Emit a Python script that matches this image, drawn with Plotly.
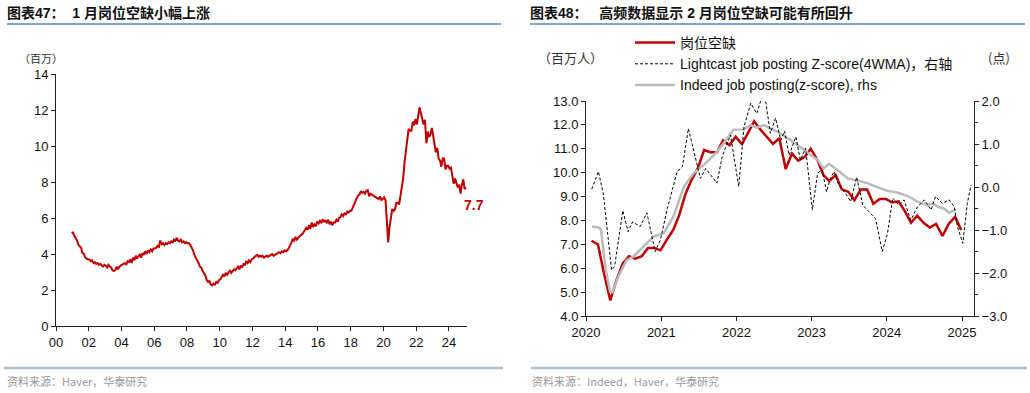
import pandas as pd
import plotly.graph_objects as go

# ---------------- data ----------------
# Left chart: US job openings (millions), monthly Dec-2000 .. Jan-2025
openings_2000s = [
    5.15,
    5.2, 5.0, 4.9, 4.75, 4.5, 4.4, 4.35, 4.05, 4.0, 3.8, 3.75, 3.7,
    3.7, 3.6, 3.65, 3.5, 3.55, 3.45, 3.5, 3.4, 3.45, 3.35, 3.3, 3.4,
    3.35, 3.25, 3.4, 3.3, 3.25, 3.1, 3.05, 3.1, 3.3, 3.15, 3.3, 3.35,
    3.4, 3.45, 3.5, 3.4, 3.6, 3.55, 3.7, 3.5, 3.8, 3.65, 3.9, 3.75,
    3.85, 4.0, 3.8, 4.05, 3.95, 4.15, 4.0, 4.2, 4.1, 4.25, 4.15, 4.3,
    4.3, 4.35, 4.45, 4.4, 4.75, 4.55, 4.6, 4.5, 4.6, 4.55, 4.65, 4.6,
    4.7, 4.65, 4.8, 4.7, 4.9, 4.75, 4.7, 4.8, 4.65, 4.7, 4.6, 4.65,
    4.6, 4.6, 4.5, 4.35, 4.2, 3.95, 3.8, 3.7, 3.5, 3.3, 3.25, 3.05,
    2.9, 2.8, 2.55, 2.45, 2.5, 2.3, 2.25, 2.35, 2.3, 2.45, 2.4, 2.55,
]
openings_2010s = [
    2.6, 2.7, 2.85, 2.75, 2.95, 2.85, 3.0, 3.1, 2.95, 3.05, 3.15, 3.1,
    3.2, 3.3, 3.15, 3.35, 3.25, 3.45, 3.4, 3.6, 3.5, 3.65, 3.55, 3.7,
    3.75, 3.85, 3.9, 3.95, 3.85, 3.9, 3.85, 3.9, 3.8, 3.85, 3.9, 3.85,
    3.9, 3.95, 4.0, 3.9, 3.95, 4.0, 4.05, 4.1, 4.05, 4.15, 4.1, 4.2,
    4.15, 4.2, 4.3, 4.45, 4.6, 4.85, 4.7, 4.95, 4.8, 4.9, 5.0, 5.05,
    5.1, 5.2, 5.3, 5.45, 5.35, 5.6, 5.4, 5.75, 5.5, 5.65, 5.55, 5.8,
    5.7, 5.85, 5.75, 5.9, 5.8, 5.85, 5.75, 5.9, 5.65, 5.8, 5.6, 5.75,
    5.75, 5.9, 5.8, 6.0, 6.05, 6.2, 6.1, 6.25, 6.2, 6.35, 6.3, 6.4,
    6.4, 6.6, 6.75, 6.9, 7.1, 7.25, 7.3, 7.5, 7.4, 7.45, 7.35, 7.5,
    7.55, 7.2, 7.35, 7.3, 7.25, 7.2, 7.15, 7.1, 7.05, 7.2, 7.0, 7.05,
]
openings_2020s = [
    7.15, 7.0, 5.8, 4.65, 5.5, 6.2, 6.5, 6.4, 6.5, 6.85, 6.85, 6.75,
    7.2, 7.6, 8.2, 9.1, 9.7, 10.2, 10.95, 10.85, 10.85, 11.35, 11.15, 11.5,
    11.2, 11.7, 12.15, 11.8, 11.5, 11.2, 11.45, 10.15, 10.8, 10.5, 10.65, 11.0,
    10.55, 9.9, 9.65, 9.9, 9.3, 9.2, 8.85, 9.3, 9.3, 8.7, 8.9, 8.9,
    8.75, 8.8, 8.4, 7.9, 8.2, 7.9, 7.7, 7.85, 7.35, 7.85, 8.15, 7.6,
    7.7,
]
left_start = "2000-12-01"
left_ticks = list(range(2000, 2025, 2))
last_label = "7.7"

# Right chart
red_start = "2020-01-01"
red_values = openings_2020s[:60]          # Jan-2020 .. Dec-2024

lightcast_t = [2020.076, 2020.165, 2020.23, 2020.34, 2020.38, 2020.49, 2020.56, 2020.62,
               2020.72, 2020.81, 2020.92, 2020.99, 2021.08, 2021.21, 2021.28, 2021.36,
               2021.52, 2021.59, 2021.74, 2021.81, 2021.92, 2022.03, 2022.1, 2022.19,
               2022.27, 2022.33, 2022.39, 2022.45, 2022.52, 2022.59, 2022.64, 2022.7,
               2022.79, 2022.85, 2022.92, 2023.01, 2023.08, 2023.14, 2023.2, 2023.25,
               2023.3, 2023.36, 2023.45, 2023.52, 2023.6, 2023.68, 2023.76, 2023.85,
               2023.94, 2024.01, 2024.08, 2024.16, 2024.23, 2024.32, 2024.41, 2024.5,
               2024.59, 2024.65, 2024.74, 2024.83, 2024.9, 2024.94, 2025.01, 2025.07, 2025.12]
lightcast_v = [-0.05, 0.36, -0.15, -1.93, -1.85, -0.55, -1.04, -0.81,
               -0.92, -0.6, -1.5, -1.23, -0.5, 0.36, 0.47, 1.36,
               0.2, 0.43, 0.09, 0.71, 1.21, 0.01, 1.4, 1.95,
               1.71, 2.05, 1.98, 1.25, 1.6, 1.09, 1.3, 0.74,
               1.17, 0.63, 0.9, -0.53, 0.32, 0.4, -0.11, 0.2,
               0.36, 0.05, -0.15, -0.34, 0.23, -0.42, -0.57, -0.73,
               -1.5, -1.08, -0.26, -0.42, -0.3, -0.77, -0.46, -0.3,
               -0.53, -0.22, -0.38, -0.3, -0.46, -0.92, -1.31, -0.38, 0.05]

indeed_t = [2020.08, 2020.17, 2020.2, 2020.26, 2020.32, 2020.35, 2020.43, 2020.54,
            2020.63, 2020.76, 2020.9, 2021.03, 2021.16, 2021.3, 2021.43, 2021.56,
            2021.7, 2021.83, 2021.96, 2022.1, 2022.19, 2022.27, 2022.37, 2022.45,
            2022.54, 2022.72, 2022.9, 2023.08, 2023.16, 2023.23, 2023.34, 2023.48,
            2023.61, 2023.74, 2023.88, 2024.01, 2024.14, 2024.28, 2024.41, 2024.54,
            2024.61, 2024.68, 2024.76, 2024.83, 2024.92]
indeed_v = [-0.92, -0.94, -1.0, -1.9, -2.43, -2.45, -2.08, -1.7,
            -1.62, -1.39, -1.15, -1.08, -0.69, 0.01, 0.32, 0.51,
            0.74, 1.02, 1.33, 1.34, 1.44, 1.38, 1.44, 1.36,
            1.29, 1.09, 0.86, 0.63, 0.43, 0.54, 0.4, 0.2,
            0.15, 0.09, -0.01, -0.09, -0.13, -0.21, -0.34, -0.42,
            -0.38, -0.46, -0.5, -0.6, -0.52]
right_ticks = list(range(2020, 2026))

names = ["岗位空缺", "Lightcast job posting Z-score(4WMA)，右轴", "Indeed job posting(z-score), rhs"]


def dec_to_date(t):
    y = int(t)
    return pd.Timestamp(year=y, month=1, day=1) + pd.Timedelta(days=(t - y) * 365.25)


left_vals = openings_2000s + openings_2010s + openings_2020s
left_dates = pd.date_range(left_start, periods=len(left_vals), freq="MS") + pd.Timedelta(days=14)
red_dates = pd.date_range(red_start, periods=len(red_values), freq="MS") + pd.Timedelta(days=27)

W, H = 1030, 393
RED = "#c00000"
TICKFONT = dict(family="Liberation Sans, Arial, sans-serif", size=13, color="#111")
CJK = "Noto Sans CJK SC"

fig = go.Figure()

fig.add_trace(go.Scatter(x=left_dates, y=left_vals, mode="lines", xaxis="x", yaxis="y",
                         line=dict(color=RED, width=2), showlegend=False))

fig.add_trace(go.Scatter(x=[dec_to_date(t) for t in indeed_t], y=indeed_v, mode="lines",
                         xaxis="x2", yaxis="y3", name=names[2],
                         line=dict(color="#bbbbbb", width=2.5), legendrank=3))
fig.add_trace(go.Scatter(x=[dec_to_date(t) for t in lightcast_t], y=lightcast_v, mode="lines",
                         xaxis="x2", yaxis="y3", name=names[1],
                         line=dict(color="#000", width=1, dash="3px,2px"), legendrank=2))
fig.add_trace(go.Scatter(x=red_dates, y=red_values, mode="lines", xaxis="x2", yaxis="y2",
                         name=names[0], line=dict(color=RED, width=2.5), legendrank=1))

axis_common = dict(showline=True, linecolor="#222", linewidth=1, ticks="outside", ticklen=4,
                   tickcolor="#222", showgrid=False, zeroline=False, tickfont=TICKFONT,
                   automargin=False)

fig.update_layout(
    width=W, height=H,
    margin=dict(l=0, r=0, t=0, b=0, autoexpand=False),
    paper_bgcolor="white", plot_bgcolor="white",
    xaxis=dict(domain=[56 / W, 467 / W], anchor="y", type="date",
               range=["2000-01-01", "2025-02-06"],
               tickvals=[pd.Timestamp(year=y, month=1, day=1) for y in left_ticks],
               ticktext=[f"{y % 100:02d}" for y in left_ticks], **axis_common),
    yaxis=dict(domain=[(H - 326) / H, (H - 74) / H], anchor="x", range=[0, 14], dtick=2,
               **axis_common),
    xaxis2=dict(domain=[586 / W, 974 / W], anchor="y2", type="date",
                range=["2020-01-01", "2025-02-28"],
                tickvals=[pd.Timestamp(year=y, month=1, day=1) for y in right_ticks],
                ticktext=[str(y) for y in right_ticks], **axis_common),
    yaxis2=dict(domain=[(H - 316) / H, (H - 101) / H], anchor="x2", range=[4, 13], dtick=1,
                tickformat=".1f", **axis_common),
    yaxis3=dict(overlaying="y2", anchor="x2", side="right", range=[-3, 2], dtick=1,
                tickformat=".1f", minor=dict(dtick=0.5, ticks="outside", ticklen=3, tickcolor="#222"),
                **axis_common),
    legend=dict(x=630 / W, y=(H - 27) / H, xanchor="left", yanchor="top",
                bgcolor="rgba(0,0,0,0)", font=dict(family=f"Liberation Sans, {CJK}", size=14, color="#111"),
                tracegroupgap=0, itemwidth=40),
)

# title lines and footer lines
fig.add_shape(type="line", xref="paper", yref="paper", x0=7 / W, x1=501 / W,
              y0=(H - 24) / H, y1=(H - 24) / H, line=dict(color="#5b86c0", width=1.5))
fig.add_shape(type="line", xref="paper", yref="paper", x0=530 / W, x1=1025 / W,
              y0=(H - 24) / H, y1=(H - 24) / H, line=dict(color="#5b86c0", width=1.5))
fig.add_shape(type="line", xref="paper", yref="paper", x0=4 / W, x1=503 / W,
              y0=(H - 368) / H, y1=(H - 368) / H, line=dict(color="#aebfd2", width=2.5))
fig.add_shape(type="line", xref="paper", yref="paper", x0=531 / W, x1=1027 / W,
              y0=(H - 368) / H, y1=(H - 368) / H, line=dict(color="#aebfd2", width=2.5))


def txt(x, y, s, size, color="#111", bold=False, family=CJK, xanchor="left"):
    fig.add_annotation(xref="paper", yref="paper", x=x / W, y=(H - y) / H, text=(f"<b>{s}</b>" if bold else s),
                       showarrow=False, xanchor=xanchor, yanchor="middle",
                       font=dict(family=family, size=size, color=color))


txt(5, 13, "图表47：  1 月岗位空缺小幅上涨", 14, bold=True, family=f"Liberation Sans, {CJK}")
txt(528, 13, "图表48：   高频数据显示 2 月岗位空缺可能有所回升", 14, bold=True, family=f"Liberation Sans, {CJK}")
txt(17, 58, "（百万）", 11, color="#333")
txt(536, 57, "（百万人）", 13, color="#333")
txt(986, 57, "(点)", 13, color="#333")
txt(5, 381, "资料来源：Haver，华泰研究", 11, color="#999")
txt(530, 381, "资料来源：Indeed，Haver，华泰研究", 11, color="#999")

fig.add_annotation(xref="x", yref="y", x=left_dates[-1], y=left_vals[-1], text=f"<b>{last_label}</b>",
                   showarrow=False, xanchor="left", yanchor="top", xshift=-4, yshift=-8,
                   font=dict(family="Liberation Sans, Arial", size=14, color=RED))

fig.write_html("out.html", config={"displayModeBar": False},
               post_script="document.body.style.margin='0';document.body.style.overflow='hidden';")
